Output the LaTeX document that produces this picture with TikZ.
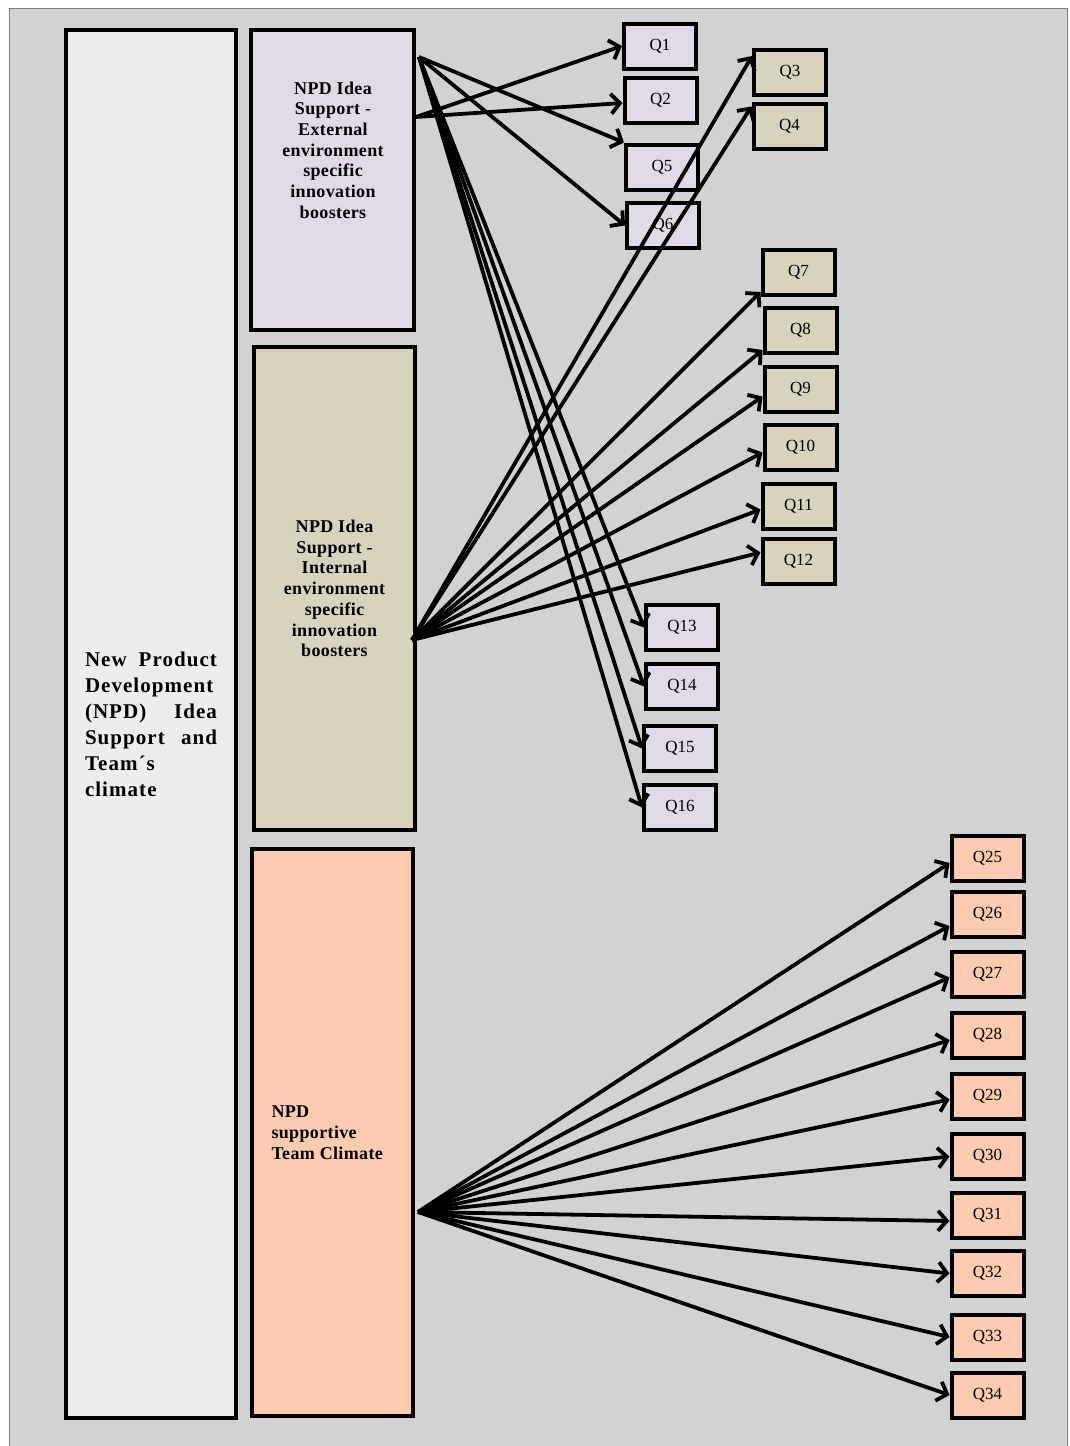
\documentclass[tikz,border=0pt]{standalone}
\usepackage{fontspec}
\setmainfont{Liberation Serif}
\newfontfamily\boxfont[LetterSpace=2]{Liberation Serif}
\newfontfamily\mainfont[LetterSpace=5]{Liberation Serif}
\usetikzlibrary{arrows.meta}
\definecolor{bggray}{HTML}{D1D3D2}
\definecolor{mainfill}{HTML}{EDEDED}
\definecolor{extfill}{HTML}{E0D9E6}
\definecolor{intfill}{HTML}{D8D3BD}
\definecolor{teamfill}{HTML}{FCCBB0}
\tikzset{
  bigbox/.style={draw=black, line width=4pt, rectangle, inner sep=0pt},
  qbox/.style={draw=black, line width=4pt, rectangle, minimum width=72pt,
    minimum height=45pt, inner sep=0pt, font=\fontsize{17}{20}\selectfont},
  boxtext/.style={font=\boxfont\fontsize{18}{20.7}\selectfont\bfseries, align=center},
  link/.style={line width=3.8pt, -{Straight Barb[length=9pt,width=20pt]}}
}
\begin{document}
\begin{tikzpicture}[x=1pt, y=-1pt]
  \useasboundingbox (0,0) rectangle (1069,1446);
  % page background
  \fill[white] (0,0) rectangle (1069,1446);
  \filldraw[fill=bggray, draw=gray, line width=1pt] (9,8) rectangle (1067,1450);

  % main category boxes
  \node[bigbox, fill=mainfill, minimum width=170pt, minimum height=1388pt] (main) at (151,724)
    {\parbox{132pt}{\mainfont\fontsize{21}{26}\selectfont\bfseries
      \makebox[132pt][s]{New Product}\\
      \makebox[132pt][s]{Development}\\
      \makebox[132pt][s]{(NPD) Idea}\\
      \makebox[132pt][s]{Support and}\\
      Team´s\\
      climate}};
  \node[bigbox, fill=extfill, minimum width=163pt, minimum height=300pt] (ext) at (332.5,180) {};
  \node[boxtext] (exttext) at (333,150)
    {NPD Idea\\Support -\\External\\environment\\specific\\innovation\\boosters};
  \node[bigbox, fill=intfill, minimum width=161pt, minimum height=483pt] (int) at (334.5,588.5)
    {\parbox{150pt}{\centering\boxfont\fontsize{18}{20.7}\selectfont\bfseries
      NPD Idea\\Support -\\Internal\\environment\\specific\\innovation\\boosters}};
  \node[bigbox, fill=teamfill, minimum width=161pt, minimum height=567pt] (team) at (332.5,1132.5)
    {\parbox{122pt}{\raggedright\boxfont\fontsize{18}{20.7}\selectfont\bfseries
      NPD\\supportive\\Team Climate}};

  % item boxes
  \node[qbox, fill=extfill] (q1) at (660,46) {Q1};
  \node[qbox, fill=extfill] (q2) at (660.5,100) {Q2};
  \node[qbox, fill=extfill] (q5) at (662,167) {Q5};
  \node[qbox, fill=extfill] (q6) at (663,225.5) {Q6};
  \node[qbox, fill=intfill] (q3) at (790,72.5) {Q3};
  \node[qbox, fill=intfill] (q4) at (789.5,126) {Q4};
  \node[qbox, fill=intfill] (q7) at (798.5,272.5) {Q7};
  \node[qbox, fill=intfill] (q8) at (800.5,330.5) {Q8};
  \node[qbox, fill=intfill] (q9) at (800.5,389.5) {Q9};
  \node[qbox, fill=intfill] (q10) at (800.5,447.5) {Q10};
  \node[qbox, fill=intfill] (q11) at (798.5,506.5) {Q11};
  \node[qbox, fill=intfill] (q12) at (798.5,561.5) {Q12};
  \node[qbox, fill=extfill] (q13) at (682,627.5) {Q13};
  \node[qbox, fill=extfill] (q14) at (682,686.5) {Q14};
  \node[qbox, fill=extfill] (q15) at (680,748.5) {Q15};
  \node[qbox, fill=extfill] (q16) at (680,807.5) {Q16};
  \node[qbox, fill=teamfill] (q25) at (987.5,858) {Q25};
  \node[qbox, fill=teamfill] (q26) at (987.5,914) {Q26};
  \node[qbox, fill=teamfill] (q27) at (987.5,974.5) {Q27};
  \node[qbox, fill=teamfill] (q28) at (987.5,1035) {Q28};
  \node[qbox, fill=teamfill] (q29) at (987.5,1096.5) {Q29};
  \node[qbox, fill=teamfill] (q30) at (987.5,1156.5) {Q30};
  \node[qbox, fill=teamfill] (q31) at (987.5,1215) {Q31};
  \node[qbox, fill=teamfill] (q32) at (987.5,1273.5) {Q32};
  \node[qbox, fill=teamfill] (q33) at (987.5,1337) {Q33};
  \node[qbox, fill=teamfill] (q34) at (987.5,1395) {Q34};

  % connector origins on the category boxes
  \coordinate (ea) at (419,57);
  \coordinate (eb) at (416,117);
  \coordinate (ia) at (412,640);
  \coordinate (ta) at (418,1212);

  % external environment items
  \draw[link] (eb) -- (q1.west);
  \draw[link] (eb) -- ([yshift=-3pt]q2.west);
  \draw[link] (ea) -- (q5.north west);
  \draw[link] (ea) -- (q6.west);
  \draw[link] (ea) -- (q13.west);
  \draw[link] (ea) -- (q14.west);
  \draw[link] (ea) -- (q15.west);
  \draw[link] (ea) -- (q16.west);

  % internal environment items
  \draw[link] (ia) -- ([yshift=-8pt]q3.north west);
  \draw[link] (ia) -- ([yshift=-5pt]q4.north west);
  \draw[link] (ia) -- ([yshift=5pt]q7.south west);
  \draw[link] (ia) -- ([yshift=5pt]q8.south west);
  \draw[link] (ia) -- ([yshift=-7pt]q9.west);
  \draw[link] (ia) -- ([yshift=-5pt]q10.west);
  \draw[link] (ia) -- ([yshift=-3pt]q11.west);
  \draw[link] (ia) -- ([yshift=9pt]q12.west);

  % team climate items
  \draw[link] (ta) -- ([yshift=-5pt]q25.west);
  \draw[link] (ta) -- ([yshift=-12pt]q26.west);
  \draw[link] (ta) -- ([yshift=-3pt]q27.west);
  \draw[link] (ta) -- ([yshift=-5pt]q28.west);
  \draw[link] (ta) -- ([yshift=-3pt]q29.west);
  \draw[link] (ta) -- (q30.west);
  \draw[link] (ta) -- ([yshift=-6pt]q31.west);
  \draw[link] (ta) -- (q32.west);
  \draw[link] (ta) -- (q33.west);
  \draw[link] (ta) -- (q34.west);
\end{tikzpicture}
\end{document}
